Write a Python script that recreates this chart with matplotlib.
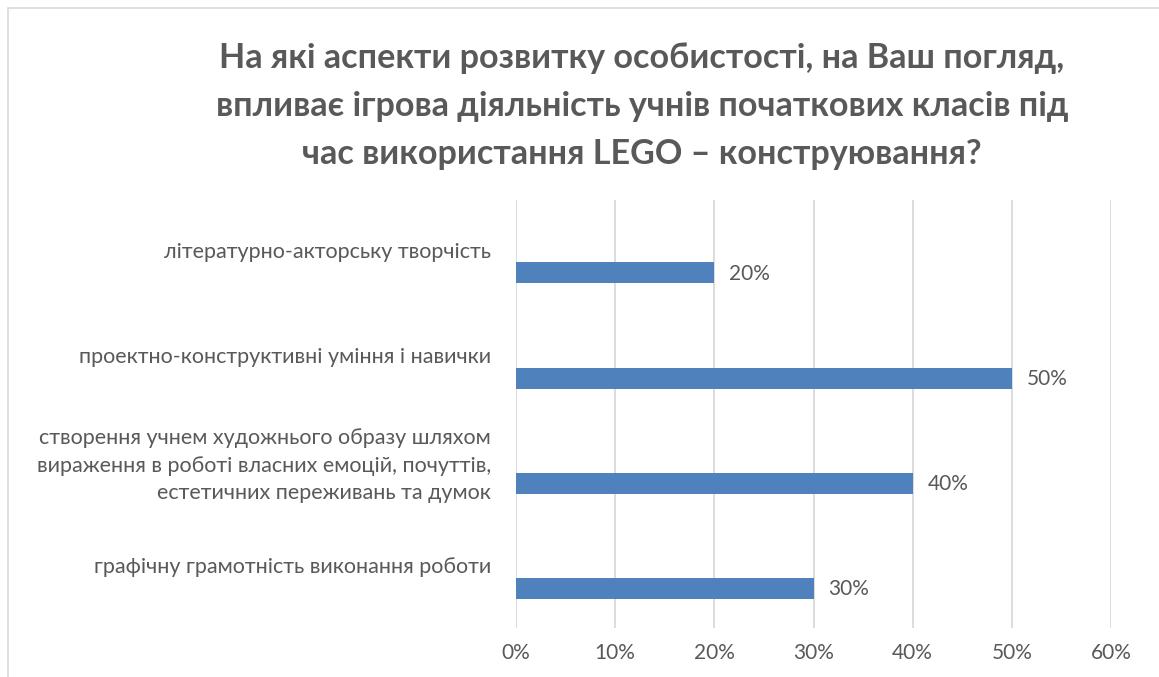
# Horizontal bar chart: aspects of personality development (LEGO construction)
import matplotlib.pyplot as plt
from matplotlib.patches import Rectangle

plt.rcParams['font.family'] = ['Lato', 'DejaVu Sans']

# Data (top to bottom)
categories = [
    'літературно-акторську творчість',
    'проектно-конструктивні уміння і навички',
    'створення учнем художнього образу шляхом\nвираження в роботі власних емоцій, почуттів,\nестетичних переживань та думок',
    'графічну грамотність виконання роботи',
]
values = [20, 50, 40, 30]
x_ticks = [0, 10, 20, 30, 40, 50, 60]
title = ('На які аспекти розвитку особистості, на Ваш погляд,\n'
         'впливає ігрова діяльність учнів початкових класів під\n'
         'час використання LEGO – конструювання?')

text_color = '#595959'
bar_color = '#4F81BD'
grid_color = '#D9D9D9'

fig = plt.figure(figsize=(11.59, 6.77), dpi=100)
ax = fig.add_axes([0.4452, 0.0724, 0.5134, 0.6322])

# chart frame (only top and left edges show in the crop)
W, H = 1159, 677
fig.patches.append(Rectangle((8 / W, -0.1), 1.2, 1 - 8 / H + 0.1,
                             transform=fig.transFigure, fill=False,
                             edgecolor='#D9D9D9', linewidth=1.2))

ypos = list(range(len(categories)))
bar_y = [y + 0.18 for y in ypos]
bars = ax.barh(bar_y, values, height=0.2, color=bar_color, zorder=3)

for b, v in zip(bars, values):
    ax.text(b.get_width() + 1.5, b.get_y() + b.get_height() / 2 + 0.01, f'{v}%',
            va='center', ha='left', fontsize=15, color=text_color)

ax.set_xlim(0, 60)
ax.set_ylim(3.56, -0.515)
ax.set_xticks(x_ticks)
ax.set_xticklabels([f'{t}%' for t in x_ticks])
ax.set_yticks([y - 0.04 for y in ypos])
ax.set_yticklabels(categories, linespacing=1.45)
ax.tick_params(axis='both', length=0, colors=text_color)
ax.tick_params(axis='x', pad=11, labelsize=15)
ax.tick_params(axis='y', pad=18, labelsize=15.5)
for lab in ax.get_yticklabels():
    lab.set_ha('right')

ax.grid(axis='x', color=grid_color, linewidth=1.3, zorder=0)
for s in ax.spines.values():
    s.set_visible(False)

fig.text(0.554, 0.843, title, ha='center', va='center', fontsize=24.6,
         fontweight='bold', color=text_color, linespacing=1.62)

fig.savefig('out.png', dpi=100)
